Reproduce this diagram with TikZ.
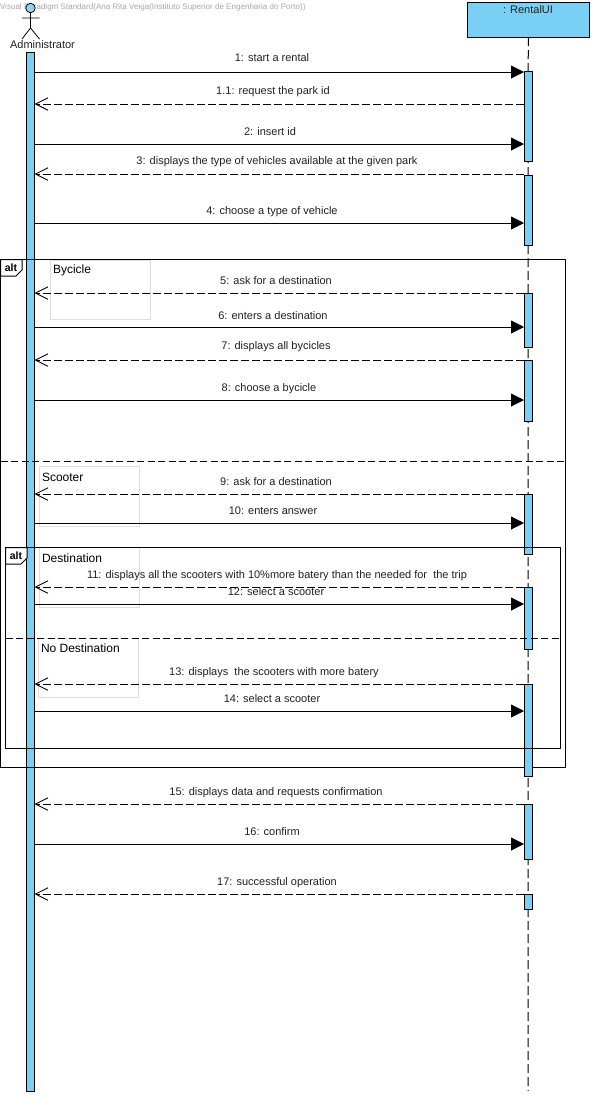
\documentclass[tikz,border=0pt]{standalone}
\usepackage{fontspec}
\setmainfont{Liberation Sans}
\usetikzlibrary{arrows.meta}
\definecolor{bar}{HTML}{7ACFF5}
\definecolor{ghost}{HTML}{DEDEDE}
\definecolor{wm}{HTML}{A8A8A8}
\definecolor{txt}{HTML}{222222}
\newcommand{\fsz}[1]{\fontsize{#1}{#1}\selectfont}
\tikzset{
  x=1pt,y=-1pt,
  every node/.style={inner sep=0pt,outer sep=0pt},
  barbox/.style={draw=black,fill=bar,line width=1pt,minimum width=8pt,anchor=north},
  lifeline/.style={line width=1pt,dash pattern=on 9pt off 4pt},
  sync/.style={line width=1pt,-{Triangle[length=13pt,width=13pt]}},
  reply/.style={line width=1pt,dash pattern=on 8pt off 3pt,-{Straight Barb[length=12.5pt,width=12.5pt,line width=0.9pt]}},
  msglabel/.style={text=txt,font=\fsz{11},anchor=base,yshift=-3pt},
  framebox/.style={draw=black,line width=1pt},
  divider/.style={line width=1pt,dash pattern=on 7pt off 3.5pt},
  ghostbox/.style={draw=ghost,line width=1pt,anchor=north west},
  guard/.style={text=black,font=\fsz{12},anchor=west},
  tag/.style={text=black,font=\fsz{10.5}\bfseries,anchor=center},
}
\newcommand{\bargroup}[3]{\node[barbox,minimum height=#3pt-#2pt] (#1) at (528,#2) {};}
\newcommand{\callmsg}[6]{% id, y, target, label x, label y, label
  \coordinate (m#1) at (0,#2);
  \draw[sync] (admin.east |- m#1) -- (#3.west |- m#1);
  \node[msglabel] (l#1) at (#4,#5) {#6};}
\newcommand{\replymsg}[6]{%
  \coordinate (m#1) at (0,#2);
  \draw[reply] (#3.west |- m#1) -- (admin.east |- m#1);
  \node[msglabel] (l#1) at (#4,#5) {#6};}
\begin{document}
\begin{tikzpicture}
\useasboundingbox (0,0) rectangle (594,1096);
\fill[white] (0,0) rectangle (594,1096);
% watermark
\node[text=wm,font=\fsz{8.05},anchor=west] (wmark) at (0,7) {Visual Paradigm Standard(Ana Rita Veiga(Instituto Superior de Engenharia do Porto))};
% actor
\node[draw=black,fill=bar,fill opacity=.8,circle,minimum size=9.5pt,line width=.8pt] (head) at (30.5,8) {};
\coordinate (hip) at (30.5,28);
\coordinate (armL) at (22,18);
\coordinate (armR) at (39.5,18);
\coordinate (legL) at (22,39);
\coordinate (legR) at (39.5,39);
\draw[line width=.8pt] (head.south) -- (hip) (armL) -- (armR) (legL) -- (hip) -- (legR);
\node[text=txt,font=\fsz{11},anchor=center] (adminname) at (42.5,45) {Administrator};
% RentalUI
\node[draw=black,fill=bar,line width=1pt,minimum width=121.5pt,minimum height=34.5pt,anchor=north west] (ui) at (467.5,2.5) {};
\node[text=txt,font=\fsz{11}] (uiname) at (528,10) {: RentalUI};
\coordinate (lifeend) at (528,1091);
\draw[lifeline] (ui.south) -- (lifeend);
% ghost boxes
\node[ghostbox,minimum width=100pt,minimum height=59pt] (gb) at (50.5,260) {};
\node[ghostbox,minimum width=100pt,minimum height=60pt] (gs) at (39.5,466) {};
\node[ghostbox,minimum width=100pt,minimum height=60pt] (gd) at (39.5,547) {};
\node[ghostbox,minimum width=100pt,minimum height=59.5pt] (gn) at (38.5,638) {};
% activations
\node[barbox,minimum height=1039pt] (admin) at (30.5,52) {};
\bargroup{a1}{71}{161}
\bargroup{a2}{175}{245}
\bargroup{a3}{293}{347}
\bargroup{a4}{360}{421}
\bargroup{a5}{494}{554}
\bargroup{a6}{587}{649}
\bargroup{a7}{684}{776}
\bargroup{a8}{804}{859}
\bargroup{a9}{894}{909}
% outer frame
\node[framebox,minimum width=565pt,minimum height=508pt,anchor=north west] (outer) at (0.5,259.5) {};
\draw[framebox,fill=white] (outer.north west) -- ++(21.5,0) -- ++(0,10.5) -- ++(-6,6) -- ++(-15.5,0) -- cycle;
\node[tag] (tag1) at (11,268) {alt};
\coordinate (d1) at (0,461);
\draw[divider] (outer.west |- d1) -- (outer.east |- d1);
% inner frame
\node[framebox,minimum width=555pt,minimum height=200.5pt,anchor=north west] (inner) at (5.5,547.5) {};
\draw[framebox,fill=white] (inner.north west) -- ++(21.5,0) -- ++(0,10.5) -- ++(-6,6) -- ++(-15.5,0) -- cycle;
\node[tag] (tag2) at (16,556) {alt};
\coordinate (d2) at (0,638);
\draw[divider] (inner.west |- d2) -- (inner.east |- d2);
% the last activation lies over the outer frame's bottom edge
\fill[bar] (524.5,766.4) rectangle (531.5,768.6);
% guards
\node[guard] (tb) at (53,270) {Bycicle};
\node[guard] (ts) at (42,477) {Scooter};
\node[guard] (td) at (42,558) {Destination};
\node[guard] (tn) at (41,648) {No Destination};
% messages
\callmsg{1}{72}{a1}{272}{58}{1: start a rental}
\replymsg{2}{104}{a1}{273}{91}{1.1: request the park id}
\callmsg{3}{144}{a1}{270}{132}{2: insert id}
\replymsg{4}{174}{a2}{277}{161}{3: displays the type of vehicles available at the given park}
\callmsg{5}{223}{a2}{272}{211}{4: choose a type of vehicle}
\replymsg{6}{293}{a3}{276}{281}{5: ask for a destination}
\callmsg{7}{327}{a3}{273}{316}{6: enters a destination}
\replymsg{8}{360}{a4}{276}{346}{7: displays all bycicles}
\callmsg{9}{400}{a4}{269}{388}{8: choose a bycicle}
\replymsg{10}{494}{a5}{276}{482}{9: ask for a destination}
\callmsg{11}{523}{a5}{273}{511}{10: enters answer}
\replymsg{12}{587}{a6}{277}{575}{11: displays all the scooters with 10\%more batery than the needed for\ \ the trip}
\callmsg{13}{604}{a6}{276}{592}{12: select a scooter}
\replymsg{14}{684}{a7}{274}{672}{13: displays\ \ the scooters with more batery}
\callmsg{15}{711}{a7}{272}{699}{14: select a scooter}
\replymsg{16}{804}{a8}{276}{792}{15: displays data and requests confirmation}
\callmsg{17}{844}{a8}{272}{832}{16: confirm}
\replymsg{18}{894}{a9}{277}{882}{17: successful operation}
\end{tikzpicture}
\end{document}
